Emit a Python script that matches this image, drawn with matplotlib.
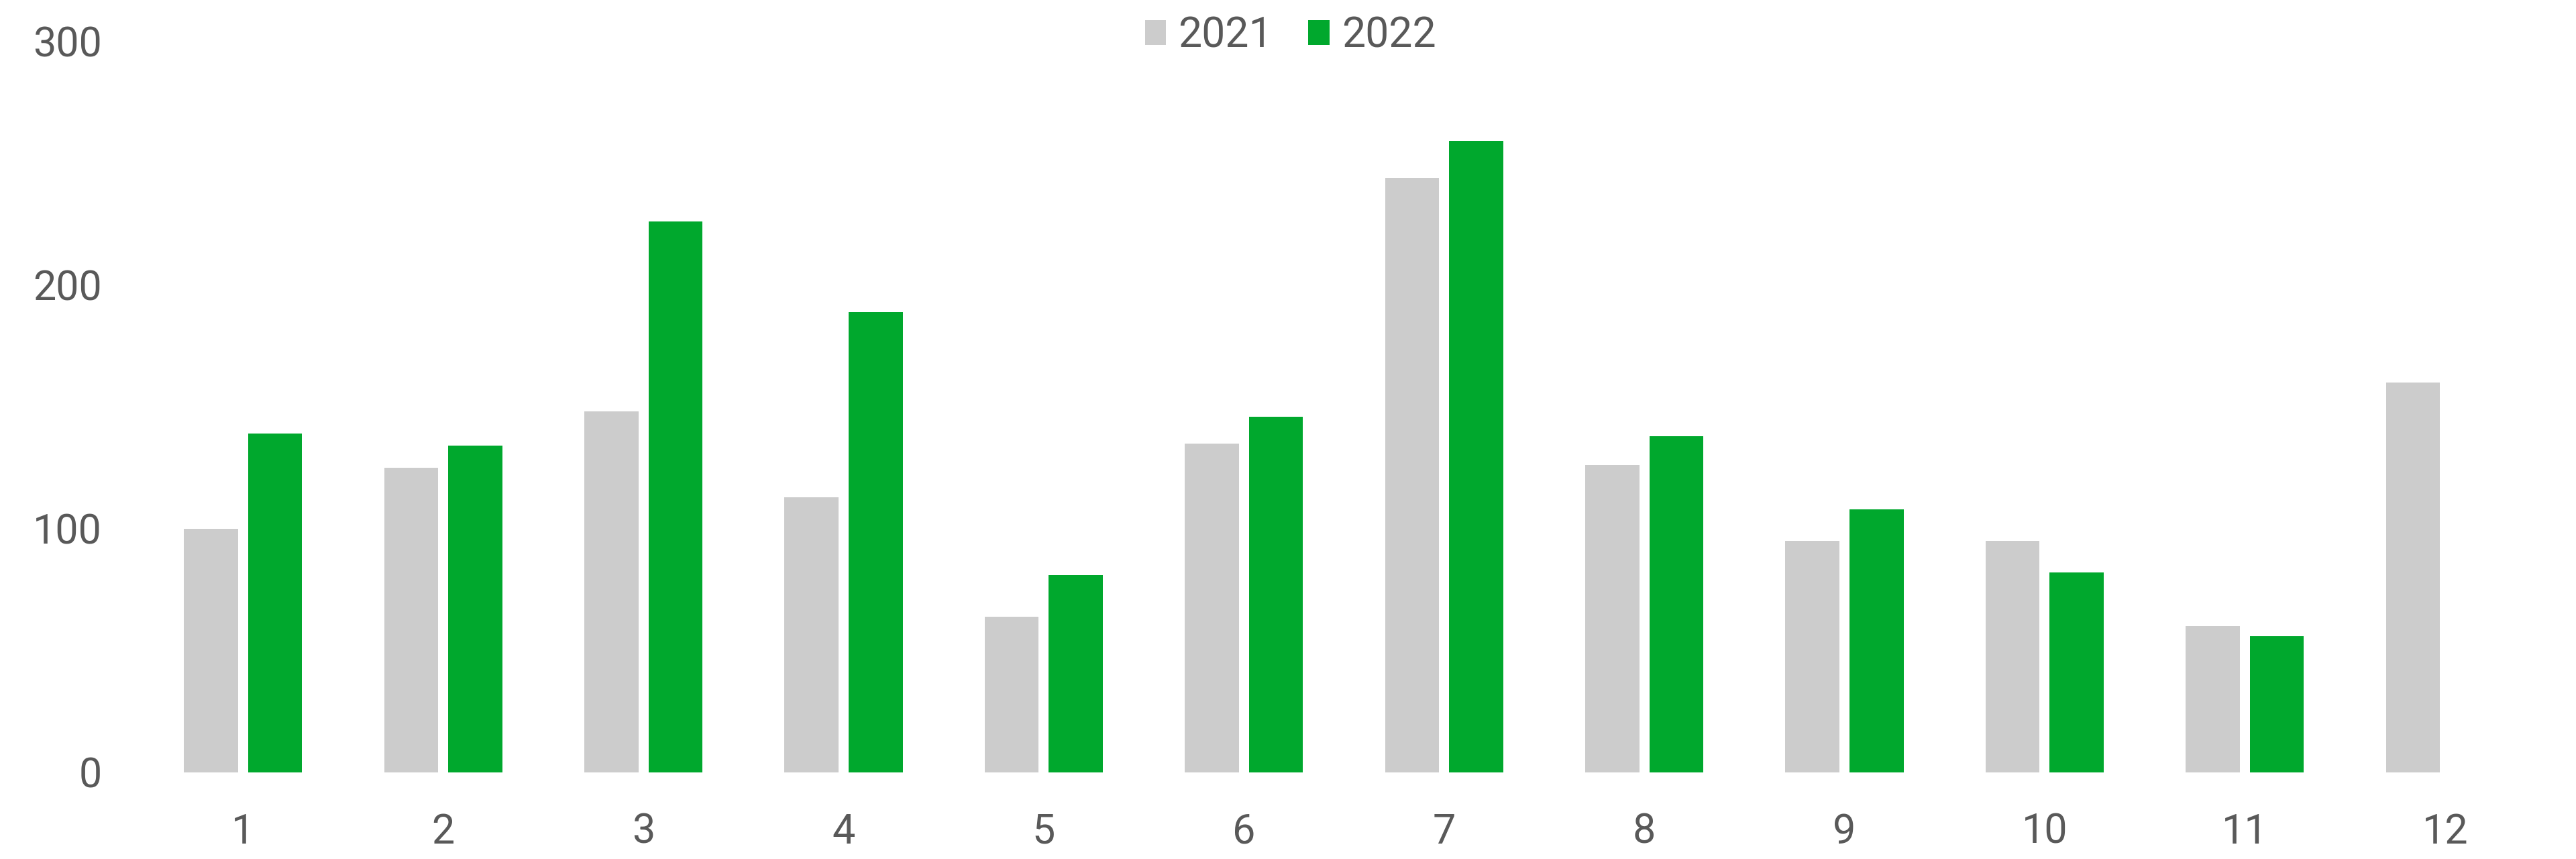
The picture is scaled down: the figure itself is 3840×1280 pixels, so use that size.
import numpy as np
import matplotlib.pyplot as plt

# --------------------- Data ----------------------
months = ["1", "2", "3", "4", "5", "6", "7", "8", "9", "10", "11", "12"]
values_2021 = [100, 125, 148, 113, 64, 135, 244, 126, 95, 95, 60, 160]
values_2022 = [139, 134, 226, 189, 81, 146, 259, 138, 108, 82, 56, np.nan]
series_labels = ["2021", "2022"]

grey = "#cccccc"
green = "#00a82d"
text_color = "#595959"

plt.rcParams['font.family'] = ['Roboto', 'DejaVu Sans']

# --------------------- Plotting ------------------------
fig = plt.figure(figsize=(38.4, 12.8), dpi=100)
ax = fig.add_axes([0.0555, 0.1008, 0.9325, 0.8512])

x = np.arange(len(months))
bar_width = 0.27
offset = 0.16

ax.bar(x - offset, values_2021, width=bar_width, color=grey, label=series_labels[0])
ax.bar(x + offset, values_2022, width=bar_width, color=green, label=series_labels[1])

ax.set_xlim(-0.5, len(months) - 0.5)
ax.set_ylim(0, 300)
ax.set_yticks([0, 100, 200, 300])
ax.set_xticks(x)
ax.set_xticklabels(months)

for side in ["top", "right", "bottom", "left"]:
    ax.spines[side].set_visible(False)

ax.tick_params(axis="both", length=0, labelsize=44, labelcolor=text_color)
ax.tick_params(axis="y", pad=44)
ax.tick_params(axis="x", pad=43)

fig.legend(loc="center", bbox_to_anchor=(0.501, 0.958), ncol=2, frameon=False,
           fontsize=45, labelcolor=text_color, handlelength=0.5, handleheight=0.55,
           handletextpad=0.3, columnspacing=0.85)

fig.savefig("out.png", dpi=100)
